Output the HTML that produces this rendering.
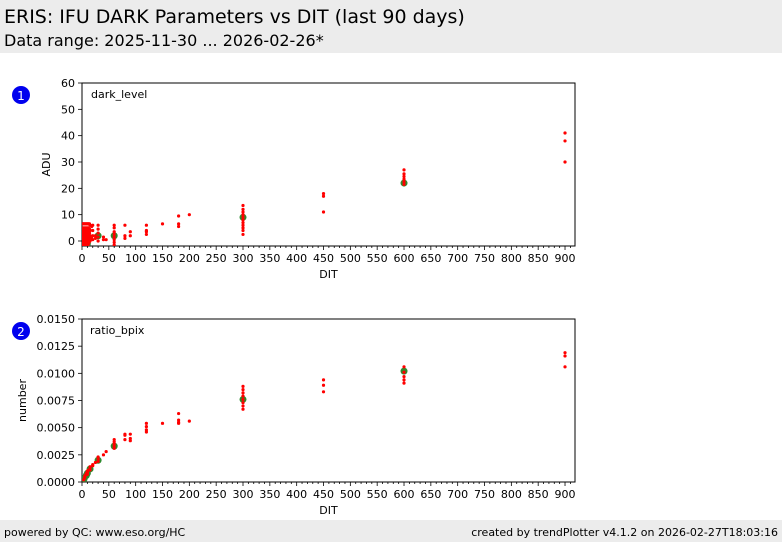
<!DOCTYPE html>
<html><head><meta charset="utf-8">
<style>
body{margin:0;width:782px;height:542px;background:#fff;font-family:"DejaVu Sans","Liberation Sans",sans-serif;position:relative;overflow:hidden}
#hdr{position:absolute;left:0;top:0;width:782px;height:53px;background:#ececec}
#t1{position:absolute;left:4px;top:6px;font-size:19px;color:#000}
#t2{position:absolute;left:4px;top:31px;font-size:16px;color:#000}
#ftr{position:absolute;left:0;top:520px;width:782px;height:22px;background:#ececec;font-size:11px}
#fl{position:absolute;left:4px;top:6px}
#fr{position:absolute;right:4px;top:6px}
svg{position:absolute;left:0;top:0}
svg text{font-family:"DejaVu Sans","Liberation Sans",sans-serif}
</style></head><body>
<div id="hdr">
<div id="t1">ERIS: IFU DARK Parameters vs DIT (last 90 days)</div>
<div id="t2">Data range: 2025-11-30 ... 2026-02-26*</div>
</div>
<svg id="chart" width="782" height="542"></svg>
<div id="ftr">
<span id="fl">powered by QC: www.eso.org/HC</span>
<span id="fr">created by trendPlotter v4.1.2 on 2026-02-27T18:03:16</span>
</div>
<script>
// Panel 1: dark_level
const darkX = [1,1,1,1,1,1,2,2,2,2,2,2,3,3,3,3,3,3,4,4,4,4,4,4,5,5,5,5,5,5,6,6,6,6,6,6,7,7,7,7,7,7,8,8,8,8,8,8,9,9,9,9,9,9,10,10,10,10,10,10,11,11,11,11,11,11,12,12,12,12,12,12,13,13,13,13,13,14,14,14,14,14,15,15,15,15,18,18,20,20,20,20,25,25,30,30,30,30,30,40,40,45,60,60,60,60,60,60,60,60,80,80,80,90,90,120,120,120,120,150,180,180,180,200,300,300,300,300,300,300,300,300,300,300,300,450,450,450,600,600,600,600,600,600,900,900,900];
const darkY = [-1.5,0,1.5,3,4.5,6.5,-1,0.5,2,3.5,5,6.5,-1.5,0,1.5,3,4.5,6.5,-1,0.5,2,3.5,5,6.5,-1.5,0,1.5,3,4.5,6.5,-1,0.5,2,3.5,5,6.5,-1.5,0,1.5,3,4.5,6.5,-1,0.5,2,3.5,5,6.5,-1.5,0,1.5,3,4.5,6.5,-1,0.5,2,3.5,5,6.5,-1.5,0,1.5,3,4.5,6.5,-1,0.5,2,3.5,5,6.5,-0.5,1,2.5,4,6.5,0,1.5,3,4.5,6.5,0,2,4,6,1,5.5,0.5,2,4,6,1,2,0,1.5,3,4.5,6,0.5,1.5,0.5,-1.5,-0.5,0.5,1.5,2.5,3.5,5,6,1,2,6,2,3.5,2.5,3.5,4,6,6.5,5.5,6.5,9.5,10,2.5,4,5,6,7,8,9,10,11,12,13.5,11,17,18,21.5,22.5,23.5,24.5,25.5,27,30,38,41];
const darkMedX = [10,30,60,300,600];
const darkMedY = [-1,2,2,9,22];
// Panel 2: ratio_bpix
const bpixX = [3,4,5,5,6,8,10,10,10,12,15,15,15,20,20,25,30,30,30,40,45,60,60,60,60,60,80,80,80,90,90,90,120,120,120,120,150,180,180,180,180,200,300,300,300,300,300,300,300,300,450,450,450,600,600,600,600,600,900,900,900];
const bpixY = [0.0002,0.0003,0.0004,0.0005,0.0006,0.0008,0.0007,0.0009,0.001,0.0011,0.0011,0.0013,0.0014,0.0015,0.0016,0.0018,0.0019,0.0021,0.0023,0.0025,0.0028,0.0031,0.0033,0.0035,0.0037,0.0039,0.0039,0.0043,0.0044,0.0038,0.004,0.0044,0.0046,0.0048,0.0051,0.0054,0.0054,0.0054,0.0055,0.0057,0.0063,0.0056,0.0067,0.007,0.0073,0.0076,0.0079,0.0082,0.0085,0.0088,0.0083,0.0089,0.0094,0.0091,0.0094,0.0097,0.0101,0.0106,0.0106,0.0116,0.0119];
const bpixMedX = [4,8,10,15,30,60,300,600];
const bpixMedY = [0.0003,0.0006,0.0008,0.0012,0.002,0.0033,0.0076,0.0102];
const xTicks = [0,50,100,150,200,250,300,350,400,450,500,550,600,650,700,750,800,850,900];
const darkTicks = [0,10,20,30,40,50,60];
const bpixTicks = [0,0.0025,0.005,0.0075,0.01,0.0125,0.015];
const bpixTickLabels = ["0.0000","0.0025","0.0050","0.0075","0.0100","0.0125","0.0150"];

const svg=document.getElementById('chart');
const NS='http://www.w3.org/2000/svg';
function mk(tag,attrs,parent){const e=document.createElementNS(NS,tag);for(const k in attrs)e.setAttribute(k,attrs[k]);(parent||svg).appendChild(e);return e;}
const L=82,R=575,XMAX=918.6;
function sx(v){return L+v*(R-L)/XMAX;}

function panel(cfg){
  const g=mk('g',{});
  
  
  const sy=v=>cfg.bot-(v-cfg.ymin)*(cfg.bot-cfg.top)/(cfg.ymax-cfg.ymin);
  mk('rect',{x:L,y:cfg.top,width:R-L,height:cfg.bot-cfg.top,fill:'#fff',stroke:'#000','stroke-width':1},g);
  for(let v=0;v<=910;v+=10){const x=sx(v);mk('line',{x1:x,x2:x,y1:cfg.bot,y2:cfg.bot+(v%50==0?4:2),stroke:'#000','stroke-width':0.8},g);}
  xTicks.forEach(v=>{const t=mk('text',{x:sx(v),y:cfg.bot+16,'font-size':11,'text-anchor':'middle'},g);t.textContent=v;
    });
  const xl=mk('text',{x:(L+R)/2,y:cfg.bot+32,'font-size':11,'text-anchor':'middle'},g);xl.textContent='DIT';
  
  cfg.yt.forEach((v,i)=>{const y=sy(v);mk('line',{x1:L-4,x2:L,y1:y,y2:y,stroke:'#000','stroke-width':0.8},g);
    const t=mk('text',{x:L-7,y:y+4,'font-size':11,'text-anchor':'end'},g);t.textContent=cfg.yl[i];
    });
  const yl=mk('text',{x:0,y:0,'font-size':11,'text-anchor':'middle',transform:`translate(${cfg.ytx},${(cfg.top+cfg.bot)/2}) rotate(-90)`},g);yl.textContent=cfg.ytitle;
  
  const lab=mk('text',{x:cfg.labx,y:cfg.top+15,'font-size':11},g);lab.textContent=cfg.label;
  
  const clip=mk('clipPath',{id:'c'+cfg.id},g);mk('rect',{x:L,y:cfg.top,width:R-L,height:cfg.bot-cfg.top},clip);
  const pg=mk('g',{'clip-path':`url(#c${cfg.id})`},g);
  cfg.mx.forEach((x,i)=>{const c=mk('circle',{cx:sx(x),cy:sy(cfg.my[i]),r:3.5,fill:'#2e8b2e'},pg);
    });
  cfg.xs.forEach((x,i)=>{const c=mk('circle',{cx:sx(x),cy:sy(cfg.ys[i]),r:1.6,fill:'#ff0000'},pg);
    });
  const b=mk('circle',{cx:21,cy:cfg.top+12,r:9,fill:'#0000ee'},g);
  
  const bt=mk('text',{x:21,y:cfg.top+17,'font-size':12,fill:'#fff','text-anchor':'middle'},g);bt.textContent=cfg.id;
}
panel({id:1,name:'dark-level-panel',top:83,bot:246,ymin:-1.9,ymax:60,yt:darkTicks,yl:darkTicks.map(String),ytitle:'ADU',ytx:50,label:'dark_level',labx:91,xs:darkX,ys:darkY,mx:darkMedX,my:darkMedY});
panel({id:2,name:'ratio-bpix-panel',top:319,bot:482,ymin:0,ymax:0.015,yt:bpixTicks,yl:bpixTickLabels,ytitle:'number',ytx:26,label:'ratio_bpix',labx:90,xs:bpixX,ys:bpixY,mx:bpixMedX,my:bpixMedY});
</script>
</body></html>
